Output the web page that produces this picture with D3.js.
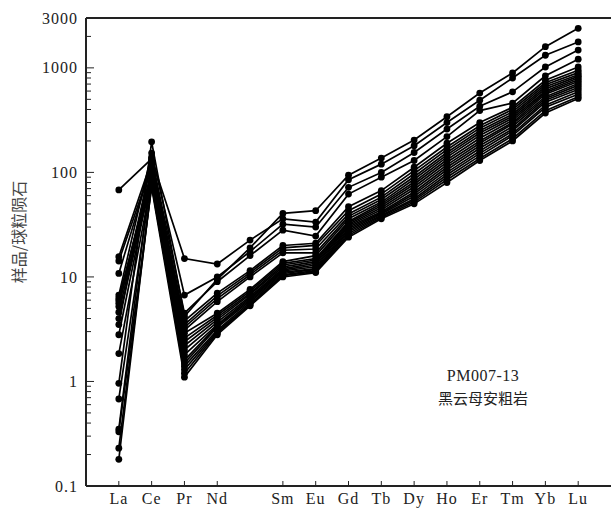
<!DOCTYPE html>
<html>
<head>
<meta charset="utf-8">
<script src="https://cdn.jsdelivr.net/npm/d3@7"></script>
<style>
  body { margin: 0; background: #fff; }
  .tick-label { font-family: "Liberation Serif", serif; font-size: 16px; letter-spacing: 1px; fill: #222; }
  .axis-title { font-family: "Noto Sans CJK SC", sans-serif; font-size: 15px; fill: #444; }
</style>
</head>
<body>
<svg id="chart" width="611" height="510"></svg>
<script>
// REE elements (Pm is plotted but not labelled)
const elements = ['La', 'Ce', 'Pr', 'Nd', 'Pm', 'Sm', 'Eu', 'Gd', 'Tb', 'Dy', 'Ho', 'Er', 'Tm', 'Yb', 'Lu'];
const elementLabels = ['La', 'Ce', 'Pr', 'Nd', '', 'Sm', 'Eu', 'Gd', 'Tb', 'Dy', 'Ho', 'Er', 'Tm', 'Yb', 'Lu'];
const yTickValues = [0.1, 1, 10, 100, 1000, 3000];
const yTickLabels = ['0.1', '1', '10', '100', '1000', '3000'];

// chondrite-normalised values, one row per sample
const samples = [
  [0.96, 196, 4.2, 9.5, 19, 40.5, 43, 94, 137, 204, 341, 574, 893, 1595, 2390],
  [68, 135, 15, 13.3, 22.5, 36, 33.5, 85, 120, 180, 300, 490, 800, 1320, 1770],
  [6.7, 153, 6.7, 10, 17.5, 32, 30, 72, 100, 155, 260, 430, 590, 1020, 1480],
  [3.5, 140, 4.5, 9, 16, 28, 24.6, 62, 90, 130, 220, 390, 460, 840, 1210],
  [15.6, 130, 3.8, 7, 11.5, 20, 21, 47, 67, 112, 190, 300, 420, 760, 1020],
  [0.35, 110, 3.5, 6.6, 11, 19, 20, 43, 62, 104, 175, 280, 400, 720, 950],
  [5.2, 125, 3.3, 6.2, 10.5, 18, 18.5, 40, 58, 97, 165, 265, 380, 690, 900],
  [10.8, 120, 3.1, 5.8, 10, 17, 17, 38, 55, 91, 155, 250, 360, 660, 860],
  [14.2, 115, 2.9, 4.5, 7.6, 14, 16, 36, 52, 86, 147, 238, 345, 630, 830],
  [6.0, 105, 2.6, 4.3, 7.3, 13.5, 15, 34, 50, 81, 140, 225, 330, 600, 800],
  [0.18, 80, 2.4, 4.1, 7, 13, 14.5, 33, 48, 77, 132, 212, 315, 580, 770],
  [4.6, 100, 2.2, 3.9, 6.8, 12.5, 14, 32, 46, 73, 125, 200, 300, 560, 740],
  [2.8, 97, 2.0, 3.7, 6.5, 12, 13.5, 31, 44, 69, 118, 190, 290, 530, 710],
  [6.3, 94, 1.8, 3.5, 6.3, 11.7, 13, 30, 42, 65, 112, 180, 275, 510, 680],
  [0.68, 87, 1.6, 3.4, 6.1, 11.4, 12.5, 29, 41, 62, 106, 170, 260, 490, 650],
  [4.0, 90, 1.5, 3.3, 5.9, 11.1, 12, 28, 40, 59, 100, 160, 250, 470, 620],
  [1.85, 84, 1.4, 3.1, 5.7, 10.8, 11.8, 27, 39, 56, 95, 152, 235, 440, 590],
  [0.23, 75, 1.3, 3.0, 5.5, 10.5, 11.5, 26, 38, 54, 90, 144, 225, 420, 560],
  [5.6, 78, 1.2, 2.9, 5.4, 10.3, 11.2, 25, 37, 52, 85, 136, 210, 390, 530],
  [0.33, 72, 1.1, 2.8, 5.3, 10, 11, 24, 36, 50, 80, 130, 200, 370, 510]
];

const sampleName = 'PM007-13';
const rockName = '黑云母安粗岩';

const margin = { top: 18, right: 0, bottom: 24, left: 86 };
const width = 611 - margin.left - margin.right;
const height = 510 - margin.top - margin.bottom;

const svg = d3.select('#chart');
const g = svg.append('g').attr('transform', `translate(${margin.left},${margin.top})`);

const x = d3.scaleLinear().domain([-1, elements.length]).range([0, width]);
const y = d3.scaleLog().domain([0.1, 3000]).range([height, 0]);

// minor ticks for the log axis
const minorTicks = [];
for (let e = -1; e <= 3; e++) {
  for (let m = 2; m <= 9; m++) {
    const v = m * Math.pow(10, e);
    if (v < 3000) minorTicks.push(v);
  }
}

// left axis
g.selectAll('.minor').data(minorTicks).enter().append('line')
  .attr('x1', 0).attr('x2', 5)
  .attr('y1', d => y(d)).attr('y2', d => y(d))
  .attr('stroke', '#222').attr('stroke-width', 1);
g.selectAll('.major').data(yTickValues).enter().append('line')
  .attr('x1', 0).attr('x2', 8)
  .attr('y1', d => y(d)).attr('y2', d => y(d))
  .attr('stroke', '#222').attr('stroke-width', 1);
g.selectAll('.ylab').data(yTickValues).enter().append('text')
  .attr('class', 'tick-label')
  .attr('x', -8)
  .attr('y', d => y(d))
  .attr('dy', '0.35em')
  .attr('text-anchor', 'end')
  .text((d, i) => yTickLabels[i]);

// bottom axis
const xTickIdx = elementLabels.map((d, i) => i).filter(i => elementLabels[i] !== '');
g.selectAll('.xtick').data(xTickIdx).enter().append('line')
  .attr('x1', d => x(d)).attr('x2', d => x(d))
  .attr('y1', height).attr('y2', height - 5)
  .attr('stroke', '#222').attr('stroke-width', 1);
g.selectAll('.xlab').data(xTickIdx).enter().append('text')
  .attr('class', 'tick-label')
  .attr('x', d => x(d))
  .attr('y', height + 18)
  .attr('text-anchor', 'middle')
  .text(d => elementLabels[d]);

// frame: left, top, bottom
g.append('line').attr('x1', 0).attr('x2', 0).attr('y1', 0).attr('y2', height)
  .attr('stroke', '#222').attr('stroke-width', 2);
g.append('line').attr('x1', 0).attr('x2', width).attr('y1', 0).attr('y2', 0)
  .attr('stroke', '#222').attr('stroke-width', 2);
g.append('line').attr('x1', 0).attr('x2', width).attr('y1', height).attr('y2', height)
  .attr('stroke', '#222').attr('stroke-width', 2);

// sample lines
const line = d3.line()
  .x((d, i) => x(i))
  .y(d => y(d));

g.selectAll('.sample').data(samples).enter().append('path')
  .attr('d', line)
  .attr('fill', 'none')
  .attr('stroke', '#000')
  .attr('stroke-width', 1.7);

samples.forEach(row => {
  g.append('g').selectAll('circle').data(row).enter().append('circle')
    .attr('cx', (d, i) => x(i))
    .attr('cy', d => y(d))
    .attr('r', 3.4)
    .attr('fill', '#000');
});

// y title
svg.append('text')
  .attr('class', 'axis-title')
  .attr('transform', 'translate(25,232) rotate(-90)')
  .attr('text-anchor', 'middle')
  .style('font-size', '16px')
  .text('样品/球粒陨石');

// annotation
g.append('text')
  .attr('class', 'tick-label')
  .attr('x', x(11.1))
  .attr('y', 363)
  .attr('text-anchor', 'middle')
  .style('letter-spacing', '0.5px')
  .text(sampleName);
g.append('text')
  .attr('class', 'axis-title')
  .attr('x', x(11.1))
  .attr('y', 386)
  .attr('text-anchor', 'middle')
  .style('fill', '#222')
  .text(rockName);
</script>
</body>
</html>
